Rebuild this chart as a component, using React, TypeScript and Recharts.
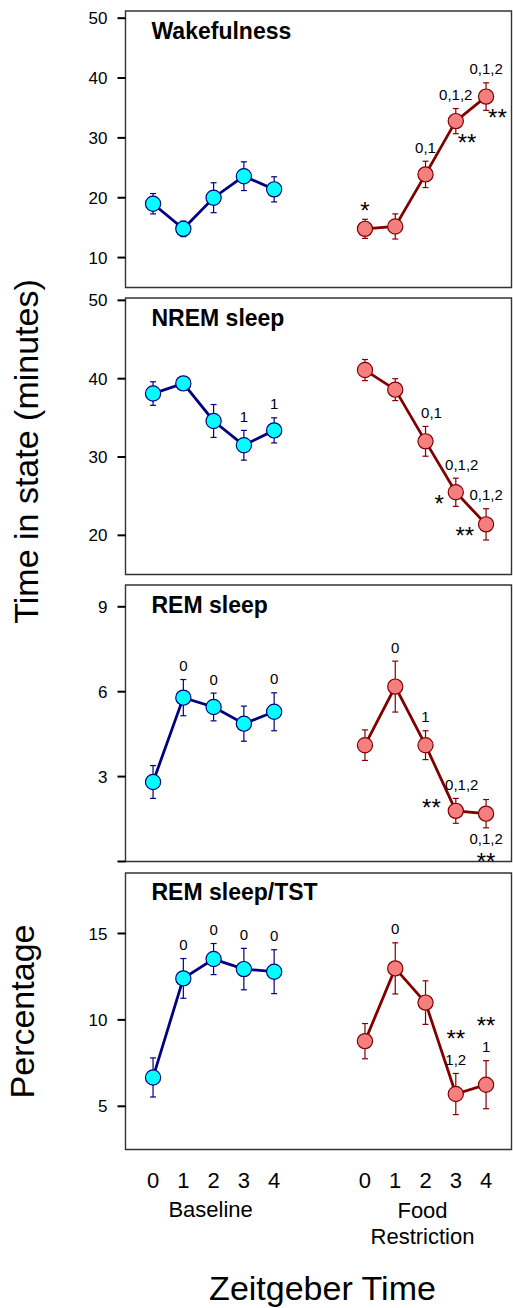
import React from 'react';
import { LineChart, Line, XAxis, YAxis, ErrorBar, ReferenceArea } from 'recharts';

// ---------- data ----------
const hours = [0, 1, 2, 3, 4];

const wakeBaseline = [19.0, 14.8, 20.0, 23.6, 21.4];
const wakeBaselineSem = [1.7, 1.3, 2.5, 2.4, 2.1];
const wakeFood = [14.8, 15.2, 23.9, 32.8, 36.9];
const wakeFoodSem = [1.6, 2.1, 2.2, 2.1, 2.3];

const nremBaseline = [38.1, 39.4, 34.6, 31.5, 33.4];
const nremBaselineSem = [1.5, 0.8, 2.1, 1.9, 1.6];
const nremFood = [41.1, 38.6, 32.0, 25.5, 21.4];
const nremFoodSem = [1.35, 1.4, 1.9, 1.8, 2.0];

const remBaseline = [2.81, 5.79, 5.46, 4.87, 5.29];
const remBaselineSem = [0.58, 0.64, 0.49, 0.62, 0.67];
const remFood = [4.11, 6.18, 4.11, 1.79, 1.69];
const remFoodSem = [0.54, 0.9, 0.51, 0.44, 0.5];

const ratioBaseline = [6.67, 12.4, 13.52, 12.94, 12.79];
const ratioBaselineSem = [1.13, 1.15, 0.9, 1.2, 1.27];
const ratioFood = [8.77, 12.98, 11.0, 5.71, 6.25];
const ratioFoodSem = [1.02, 1.48, 1.26, 1.19, 1.39];

type Note = { text: string; at: string; level?: number };

const wakeBaselineNotes: Note[][] = [[], [], [], [], []];
const wakeFoodNotes: Note[][] = [
  [{ text: '*', at: 'above' }],
  [],
  [{ text: '0,1', at: 'above' }],
  [{ text: '0,1,2', at: 'above' }, { text: '**', at: 'belowRight' }],
  [{ text: '0,1,2', at: 'above' }, { text: '**', at: 'belowRight' }],
];
const nremBaselineNotes: Note[][] = [[], [], [], [{ text: '1', at: 'above' }], [{ text: '1', at: 'above' }]];
const nremFoodNotes: Note[][] = [
  [],
  [],
  [{ text: '0,1', at: 'aboveRight' }],
  [{ text: '0,1,2', at: 'aboveRight' }, { text: '*', at: 'left' }],
  [{ text: '0,1,2', at: 'above' }, { text: '**', at: 'left' }],
];
const remBaselineNotes: Note[][] = [[], [{ text: '0', at: 'above' }], [{ text: '0', at: 'above' }], [], [{ text: '0', at: 'above' }]];
const remFoodNotes: Note[][] = [
  [],
  [{ text: '0', at: 'above' }],
  [{ text: '1', at: 'above' }],
  [{ text: '0,1,2', at: 'aboveRight' }, { text: '**', at: 'upLeft' }],
  [{ text: '0,1,2', at: 'below' }, { text: '**', at: 'below', level: 1 }],
];
const ratioBaselineNotes: Note[][] = [[], [{ text: '0', at: 'above' }], [{ text: '0', at: 'above' }], [{ text: '0', at: 'above' }], [{ text: '0', at: 'above' }]];
const ratioFoodNotes: Note[][] = [
  [],
  [{ text: '0', at: 'above' }],
  [],
  [{ text: '1,2', at: 'above' }, { text: '**', at: 'above', level: 1 }],
  [{ text: '1', at: 'above' }, { text: '**', at: 'above', level: 1 }],
];

const groupLabels = ['Baseline', 'Food\nRestriction'];

// ---------- layout / style ----------
const FONT = '"Liberation Sans", Arial, Helvetica, sans-serif';
const FR_SHIFT = 7;
const X_DOMAIN: [number, number] = [-0.91, 11.84];
const FRAME_H = 276.5;
const FRAME_LEFT = 125.5;
const W = 513;
const BASE_LINE = '#000080';
const BASE_FILL = '#00ffff';
const FOOD_LINE = '#800000';
const FOOD_FILL = '#f57f7f';

function makeSeries(values: number[], sem: number[], notes: Note[][], shift: number) {
  return hours.map((h, i) => ({ x: h + shift, y: values[i], err: sem[i], notes: notes[i] }));
}

const panels = [
  {
    title: 'Wakefulness', frameTop: 11, yDomain: [5, 51.2] as [number, number], yTicks: [10, 20, 30, 40, 50], hideTick: [] as number[],
    base: makeSeries(wakeBaseline, wakeBaselineSem, wakeBaselineNotes, 0),
    food: makeSeries(wakeFood, wakeFoodSem, wakeFoodNotes, FR_SHIFT),
  },
  {
    title: 'NREM sleep', frameTop: 298.3, yDomain: [15, 50.3] as [number, number], yTicks: [20, 30, 40, 50], hideTick: [] as number[],
    base: makeSeries(nremBaseline, nremBaselineSem, nremBaselineNotes, 0),
    food: makeSeries(nremFood, nremFoodSem, nremFoodNotes, FR_SHIFT),
  },
  {
    title: 'REM sleep', frameTop: 585.2, yDomain: [0, 9.77] as [number, number], yTicks: [0, 3, 6, 9], hideTick: [0],
    base: makeSeries(remBaseline, remBaselineSem, remBaselineNotes, 0),
    food: makeSeries(remFood, remFoodSem, remFoodNotes, FR_SHIFT),
  },
  {
    title: 'REM sleep/TST', frameTop: 872.8, yDomain: [2.5, 18.5] as [number, number], yTicks: [5, 10, 15], hideTick: [] as number[],
    base: makeSeries(ratioBaseline, ratioBaselineSem, ratioBaselineNotes, 0),
    food: makeSeries(ratioFood, ratioFoodSem, ratioFoodNotes, FR_SHIFT),
  },
];

function notePos(n: Note, cx: number, cy: number, e: number) {
  const lvl = n.level ?? 0;
  switch (n.at) {
    case 'aboveRight':
      return { x: cx + 6, y: cy - e - 14 - lvl * 26, anchor: 'middle' };
    case 'below':
      return { x: cx, y: cy + e + 11 + lvl * 17, anchor: 'middle' };
    case 'left':
      return { x: cx - 12, y: cy + 6, anchor: 'end' };
    case 'upLeft':
      return { x: cx - 15, y: cy - 9, anchor: 'end' };
    case 'belowRight':
      return { x: cx + 2, y: cy + 16, anchor: 'start' };
    default:
      return { x: cx, y: cy - e - 14 - lvl * 26, anchor: 'middle' };
  }
}

function makeDot(fill: string, stroke: string, pxPerUnit: number) {
  return (props: any) => {
    const { cx, cy, index, payload } = props;
    if (cx == null || cy == null) return <g key={`d-${index}`} />;
    const e = payload.err * pxPerUnit;
    const notes = payload.notes as Note[];
    return (
      <g key={`d-${index}`}>
        <circle cx={cx} cy={cy} r={7.6} fill={fill} stroke={stroke} strokeWidth={1.2} />
        {notes.map((n, j) => {
          const p = notePos(n, cx, cy, e);
          const star = n.text.includes('*');
          const fs = star ? 24 : 15;
          const base = p.y + (star ? 0.57 : 0.36) * fs;
          return (
            <text key={j} x={p.x} y={base} textAnchor={p.anchor as any} fontSize={fs} fontFamily={FONT} fill="#000">
              {n.text}
            </text>
          );
        })}
      </g>
    );
  };
}

function ZtTick(props: any) {
  const { x, y, payload } = props;
  const v = payload.value as number;
  const shown = v >= FR_SHIFT ? v - FR_SHIFT : v;
  const mid = hours[Math.floor(hours.length / 2)];
  const group = v === mid ? groupLabels[0] : v === mid + FR_SHIFT ? groupLabels[1] : null;
  const lines = group ? group.split('\n') : [];
  return (
    <g>
      <text x={x} y={y + 38} textAnchor="middle" fontSize={22} fontFamily={FONT} fill="#000">
        {shown}
      </text>
      {lines.map((l, i) => (
        <text key={i} x={x - 3} y={y + (lines.length > 1 ? 68.5 : 67) + i * 26} textAnchor="middle" fontSize={22} fontFamily={FONT} fill="#000">
          {l}
        </text>
      ))}
    </g>
  );
}

function Panel({ cfg, showX }: { cfg: (typeof panels)[number]; showX: boolean }) {
  const mTop = 10;
  const mBottom = showX ? 0 : 24;
  const xAxisH = showX ? 110 : 0;
  const height = mTop + FRAME_H + mBottom + xAxisH;
  const pxPerUnit = FRAME_H / (cfg.yDomain[1] - cfg.yDomain[0]);
  const xTicks = [...hours, ...hours.map((h) => h + FR_SHIFT)];
  return (
    <div style={{ position: 'absolute', left: 0, top: cfg.frameTop - mTop }}>
      <LineChart width={W} height={height} margin={{ top: mTop, right: 1.5, bottom: mBottom, left: 0 }}>
        <XAxis
          type="number"
          dataKey="x"
          domain={X_DOMAIN}
          allowDataOverflow
          hide={!showX}
          ticks={xTicks}
          interval={0}
          height={xAxisH}
          axisLine={false}
          tickLine={false}
          tickSize={0}
          tickMargin={0}
          tick={<ZtTick />}
        />
        <YAxis
          type="number"
          domain={cfg.yDomain}
          allowDataOverflow
          ticks={cfg.yTicks}
          interval={0}
          width={FRAME_LEFT}
          tickSize={8}
          tickMargin={10}
          axisLine={false}
          tickLine={{ stroke: '#000', strokeWidth: 2 }}
          tick={{ fontSize: 17, fontFamily: FONT, fill: '#000' }}
          tickFormatter={(v: number) => (cfg.hideTick.includes(v) ? '' : String(v))}
        />
        <ReferenceArea
          x1={X_DOMAIN[0]}
          x2={X_DOMAIN[1]}
          y1={cfg.yDomain[0]}
          y2={cfg.yDomain[1]}
          fill="none"
          fillOpacity={0}
          stroke="#333"
          strokeWidth={1.4}
          ifOverflow="visible"
        />
        <Line
          data={cfg.base}
          dataKey="y"
          stroke={BASE_LINE}
          strokeWidth={2.8}
          dot={makeDot(BASE_FILL, BASE_LINE, pxPerUnit)}
          activeDot={false}
          isAnimationActive={false}
        >
          <ErrorBar dataKey="err" direction="y" width={3} stroke={BASE_LINE} strokeWidth={1.2} />
        </Line>
        <Line
          data={cfg.food}
          dataKey="y"
          stroke={FOOD_LINE}
          strokeWidth={2.8}
          dot={makeDot(FOOD_FILL, FOOD_LINE, pxPerUnit)}
          activeDot={false}
          isAnimationActive={false}
        >
          <ErrorBar dataKey="err" direction="y" width={3} stroke={FOOD_LINE} strokeWidth={1.2} />
        </Line>
      </LineChart>
    </div>
  );
}

export default function App() {
  return (
    <div style={{ position: 'absolute', left: 0, top: 0, width: W, height: 1308, background: '#fff', overflow: 'hidden' }}>
      {panels.map((p, i) => (
        <Panel key={i} cfg={p} showX={i === panels.length - 1} />
      ))}
      <svg width={W} height={1308} style={{ position: 'absolute', left: 0, top: 0, pointerEvents: 'none' }}>
        {panels.map((p, i) => (
          <text key={i} x={FRAME_LEFT + 26} y={p.frameTop + 27.5} fontSize={23} fontWeight="bold" fontFamily={FONT} fill="#000">
            {p.title}
          </text>
        ))}
        <text x={38} y={451.5} transform="rotate(-90 38 451.5)" textAnchor="middle" fontSize={34} fontFamily={FONT} fill="#000">
          Time in state (minutes)
        </text>
        <text x={33.5} y={1011.5} transform="rotate(-90 33.5 1011.5)" textAnchor="middle" fontSize={34} fontFamily={FONT} fill="#000">
          Percentage
        </text>
        <text x={322.5} y={1299.5} textAnchor="middle" fontSize={34} fontFamily={FONT} fill="#000">
          Zeitgeber Time
        </text>
      </svg>
    </div>
  );
}
